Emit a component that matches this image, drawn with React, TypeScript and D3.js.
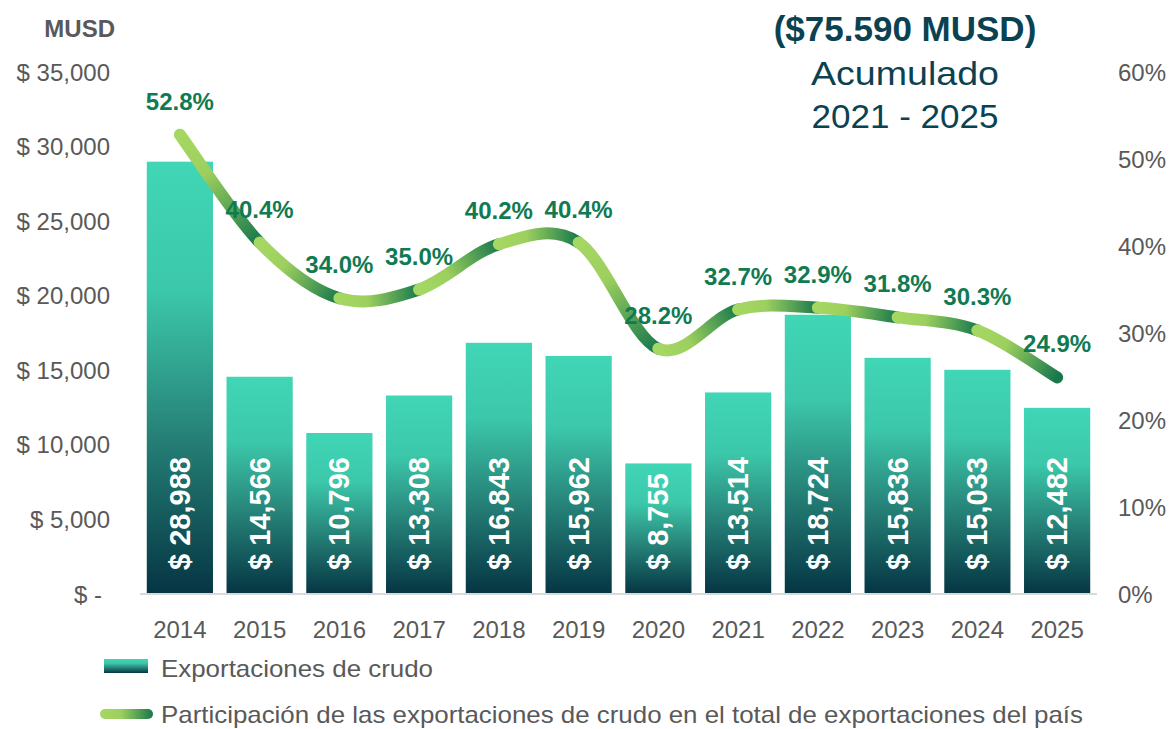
import React from 'react';
import * as d3 from 'd3';

const years = ['2014', '2015', '2016', '2017', '2018', '2019', '2020', '2021', '2022', '2023', '2024', '2025'];
const exports = [28988, 14566, 10796, 13308, 16843, 15962, 8755, 13514, 18724, 15836, 15033, 12482];
const share = [52.8, 40.4, 34.0, 35.0, 40.2, 40.4, 28.2, 32.7, 32.9, 31.8, 30.3, 24.9];
const leftTicks = [0, 5000, 10000, 15000, 20000, 25000, 30000, 35000];
const rightTicks = [0, 10, 20, 30, 40, 50, 60];

const W = 1173;
const H = 729;
const gray = '#595959';
const light = '#a5d862';
const dark = '#17784c';

export default function App() {
  const x = d3.scaleBand<string>().domain(years).range([140, 1097]).paddingInner(0.17).paddingOuter(0.085);
  const yL = d3.scaleLinear().domain([0, 35000]).range([594, 72]);
  const yR = d3.scaleLinear().domain([0, 60]).range([594, 72]);
  const fmt = d3.format(',');
  const cx = (y: string) => (x(y) as number) + x.bandwidth() / 2;

  const pts = years.map((yr, i) => [cx(yr), yR(share[i])]);

  // one smooth bezier per segment (cardinal, tension 0) so each gets its own gradient
  const segs = pts.slice(0, -1).map((p1, i) => {
    const p0 = pts[Math.max(i - 1, 0)];
    const p2 = pts[i + 1];
    const p3 = pts[Math.min(i + 2, pts.length - 1)];
    const p = d3.path();
    p.moveTo(p1[0], p1[1]);
    p.bezierCurveTo(
      p1[0] + (p2[0] - p0[0]) / 6, p1[1] + (p2[1] - p0[1]) / 6,
      p2[0] - (p3[0] - p1[0]) / 6, p2[1] - (p3[1] - p1[1]) / 6,
      p2[0], p2[1]
    );
    return { d: p.toString(), a: p1, b: p2 };
  });

  return (
    <svg width={W} height={H} style={{ position: 'absolute', left: 0, top: 0, background: '#fff' }}
      fontFamily="'Liberation Sans', Arial, sans-serif">
      <defs>
        <linearGradient id="barGrad" x1="0" y1="0" x2="0" y2="1">
          <stop offset="0" stopColor="#40d6b6" />
          <stop offset="0.3" stopColor="#3cc8aa" />
          <stop offset="0.62" stopColor="#278479" />
          <stop offset="1" stopColor="#053543" />
        </linearGradient>
        {segs.map((s, i) => (
          <linearGradient key={i} id={'seg' + i} gradientUnits="userSpaceOnUse"
            x1={s.a[0]} y1={s.a[1]} x2={s.b[0]} y2={s.b[1]}>
            <stop offset="0" stopColor={light} />
            <stop offset="0.35" stopColor="#9ccf5e" />
            <stop offset="1" stopColor={dark} />
          </linearGradient>
        ))}
        <linearGradient id="legLine" gradientUnits="userSpaceOnUse" x1="100" y1="0" x2="153" y2="0">
          <stop offset="0" stopColor={light} />
          <stop offset="0.4" stopColor="#9ccf5e" />
          <stop offset="1" stopColor={dark} />
        </linearGradient>
      </defs>

      {/* left axis */}
      <text x={115} y={37} textAnchor="end" fontSize={24} fontWeight="bold" fill={gray}>MUSD</text>
      {leftTicks.map((t) => (
        <text key={t} x={t === 0 ? 102 : 110} y={yL(t) + 8.5} textAnchor="end" fontSize={24} fill={gray}>
          {t === 0 ? '$ -' : '$ ' + fmt(t)}
        </text>
      ))}
      {/* right axis */}
      {rightTicks.map((t) => (
        <text key={t} x={1118} y={yR(t) + 8.5} fontSize={24} fill={gray}>{t + '%'}</text>
      ))}

      {/* bars */}
      {years.map((yr, i) => (
        <rect key={yr} x={x(yr)} y={yL(exports[i])} width={x.bandwidth()} height={yL(0) - yL(exports[i])}
          fill="url(#barGrad)" />
      ))}
      <line x1={140} x2={1097} y1={594} y2={594} stroke="#d9d9d9" strokeWidth={2} />
      {years.map((yr, i) => (
        <text key={yr} transform={`translate(${cx(yr) + 10},570) rotate(-90)`} fontSize={29}
          fontWeight="bold" fill="#fff">{'$ ' + fmt(exports[i])}</text>
      ))}

      {/* x labels */}
      {years.map((yr) => (
        <text key={yr} x={cx(yr)} y={638} textAnchor="middle" fontSize={24} fill={gray}>{yr}</text>
      ))}

      {/* share line */}
      {segs.map((s, i) => (
        <path key={i} d={s.d} fill="none" stroke={`url(#seg${i})`} strokeWidth={12} strokeLinecap="round" />
      ))}
      {pts.map((p, i) => (
        <text key={i} x={p[0]} y={p[1] - 25} textAnchor="middle" fontSize={24} fontWeight="bold" fill="#107a52">
          {share[i].toFixed(1) + '%'}
        </text>
      ))}

      {/* title */}
      <text x={905} y={41} textAnchor="middle" fontSize={35} fontWeight="bold" fill="#0b4252">($75.590 MUSD)</text>
      <text x={905} y={85} textAnchor="middle" fontSize={33} fill="#0b4252" textLength={188} lengthAdjust="spacingAndGlyphs">Acumulado</text>
      <text x={905} y={128} textAnchor="middle" fontSize={33} fill="#0b4252" textLength={187} lengthAdjust="spacingAndGlyphs">2021 - 2025</text>

      {/* legend */}
      <rect x={104} y={659} width={44} height={14} fill="url(#barGrad)" />
      <text x={161} y={677} fontSize={24} fill={gray} textLength={272} lengthAdjust="spacingAndGlyphs">Exportaciones de crudo</text>
      <line x1={105} x2={148} y1={714} y2={714} stroke="url(#legLine)" strokeWidth={10} strokeLinecap="round" />
      <text x={161} y={723} fontSize={24} fill={gray} textLength={922} lengthAdjust="spacingAndGlyphs">
        Participación de las exportaciones de crudo en el total de exportaciones del país
      </text>
    </svg>
  );
}
